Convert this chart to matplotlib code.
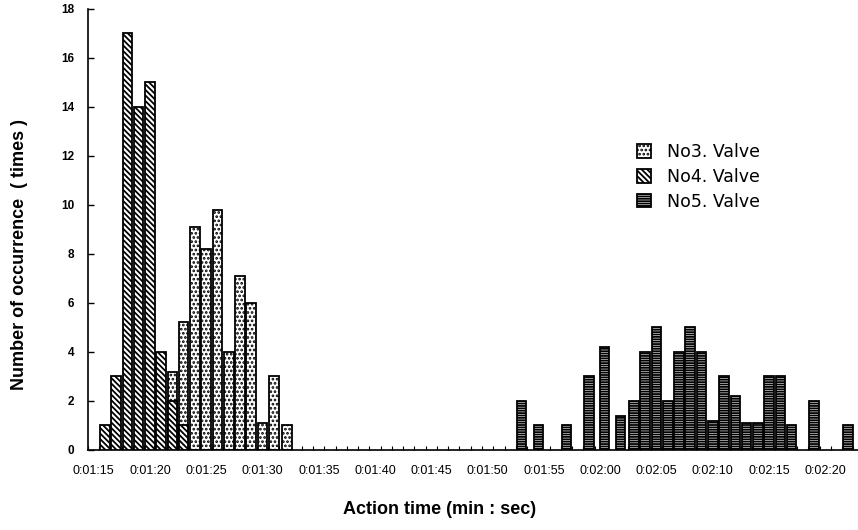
import matplotlib
matplotlib.use('Agg')
import matplotlib.pyplot as plt

# action time (seconds), one bar per 1 s bin
no3_sec = [82, 83, 84, 85, 86, 87, 88, 89, 90, 91, 92.2]
no3_count = [3.2, 5.2, 9.1, 8.2, 9.8, 4, 7.1, 6, 1.1, 3, 1]

no4_sec = [76, 77, 78, 79, 80, 81, 82, 83]
no4_count = [1, 3, 17, 14, 15, 4, 2, 1]

no5_sec = [113, 114.5, 117, 119, 120.4, 121.8, 123, 124, 125, 126, 127, 128,
           129, 130, 131, 132, 133, 134, 135, 136, 137, 139, 142]
no5_count = [2, 1, 1, 3, 4.2, 1.4, 2, 4, 5, 2, 4, 5,
             4, 1.2, 3, 2.2, 1.1, 1.1, 3, 3, 1, 2, 1]

tick_sec = [75, 80, 85, 90, 95, 100, 105, 110, 115, 120, 125, 130, 135, 140]
tick_labels = ['0:01:15', '0:01:20', '0:01:25', '0:01:30', '0:01:35', '0:01:40',
               '0:01:45', '0:01:50', '0:01:55', '0:02:00', '0:02:05', '0:02:10',
               '0:02:15', '0:02:20']

plt.rcParams['font.family'] = ['Liberation Sans', 'DejaVu Sans']
plt.rcParams['hatch.linewidth'] = 1.3

fig = plt.figure(figsize=(8.58, 5.30), dpi=100)
ax = fig.add_axes([88 / 858, 80 / 530, 770 / 858, 441.5 / 530])

w = 0.85
ax.bar(no3_sec, no3_count, width=w, facecolor='white', edgecolor='black',
       linewidth=1.3, hatch='....', label='No3. Valve', zorder=2)
ax.bar(no4_sec, no4_count, width=w, facecolor='white', edgecolor='black',
       linewidth=1.3, hatch='\\' * 6, label='No4. Valve', zorder=3)
ax.bar(no5_sec, no5_count, width=w, facecolor='white', edgecolor='black',
       linewidth=1.3, hatch='-' * 7, label='No5. Valve', zorder=4)

ax.set_xlim(74.7, 142.9)
ax.set_ylim(0, 18)

ax.set_xticks(tick_sec)
ax.set_xticklabels(tick_labels)
ax.set_xticks([s + 0.5 for s in range(74, 143)], minor=True)
ax.tick_params(axis='x', which='major', length=0, pad=11, labelsize=9)
ax.tick_params(axis='x', which='minor', direction='in', length=3, width=0.8)

ax.set_yticks(range(0, 19, 2))
ax.tick_params(axis='y', direction='in', length=4, width=1, pad=10, labelsize=8.5)
for lab in ax.get_yticklabels():
    lab.set_fontweight('bold')

for side in ['top', 'right']:
    ax.spines[side].set_visible(False)
ax.spines['left'].set_linewidth(1.2)
ax.spines['bottom'].set_linewidth(1.2)

fig.text(20 / 858, 1 - 255 / 530, 'Number of occurrence  ( times )',
         rotation=90, ha='center', va='center', fontsize=13, fontweight='bold')
fig.text(440 / 858, 1 - 510 / 530, 'Action time (min : sec)',
         ha='center', va='center', fontsize=13, fontweight='bold')

ax.legend(loc='upper left', bbox_to_anchor=(637 / 858, 1 - 143 / 530),
          bbox_transform=fig.transFigure, frameon=False, borderpad=0,
          borderaxespad=0, handlelength=0.8, handleheight=0.8,
          handletextpad=0.9, labelspacing=0.4,
          prop={'family': 'DejaVu Sans', 'size': 12.5})

fig.savefig('out.png', dpi=100)
